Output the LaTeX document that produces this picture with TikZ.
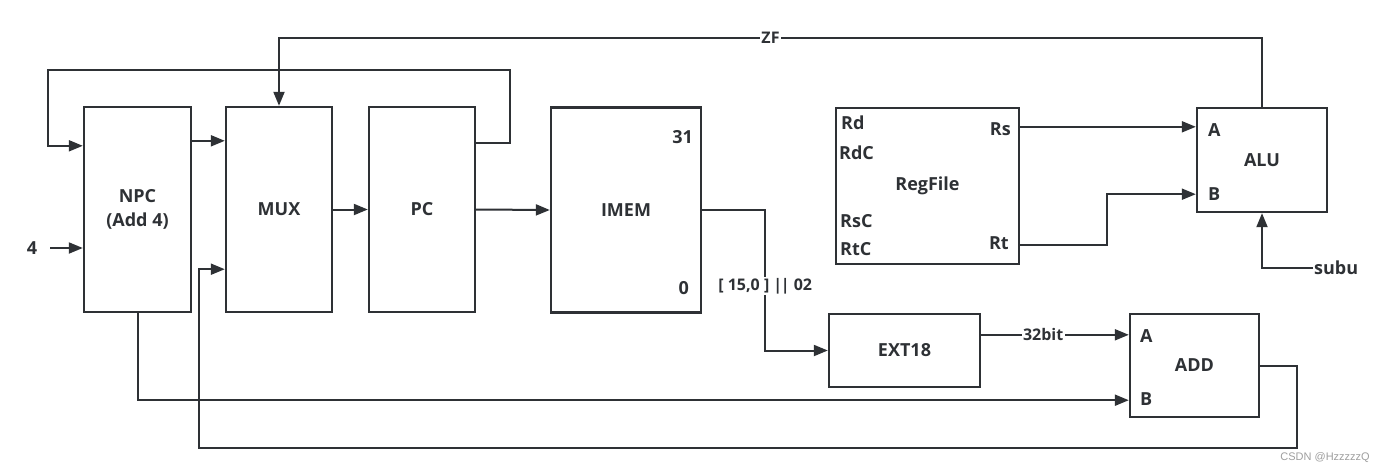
\documentclass[tikz,border=0pt]{standalone}
\usepackage{fontspec}
\setmainfont{Open Sans}
\newfontfamily\wmfont{Liberation Sans}
\usetikzlibrary{arrows.meta,calc}
\definecolor{ink}{RGB}{46,49,53}
\begin{document}
\begin{tikzpicture}[x=1pt,y=-1pt,
  blk/.style={draw=ink, line width=2.4pt, rectangle, minimum height=205pt, inner sep=0pt,
    font=\fontsize{18}{24}\selectfont\bfseries, text=ink, align=center},
  wire/.style={draw=ink, line width=2pt},
  arr/.style={wire, -{Triangle[length=14pt,width=11pt]}},
  lbl/.style={font=\fontsize{18}{20}\selectfont\bfseries, text=ink, inner sep=1pt},
  slbl/.style={font=\fontsize{16}{18}\selectfont\bfseries, text=ink, inner sep=1.5pt, fill=white},
]
\useasboundingbox (0,0) rectangle (1380,474);
\fill[white] (0,0) rectangle (1380,474);

% blocks
\node[blk, minimum width=107pt] (NPC) at (137.5,209.5) {NPC\\(Add 4)};
\node[blk, minimum width=106pt] (MUX) at (279,209.5) {MUX};
\node[blk, minimum width=106pt] (PC) at (422,209.5) {PC};
\node[blk, minimum width=150pt] (IMEM) at (626,210) {IMEM};
\node[blk, minimum width=183pt, minimum height=156pt] (RF) at (927.5,186) {RegFile};
\node[blk, minimum width=130pt, minimum height=104pt] (ALU) at (1262,160) {ALU};
\node[blk, minimum width=151pt, minimum height=73pt] (EXT) at (904.5,350.5) {EXT18};
\node[blk, minimum width=129pt, minimum height=103pt] (ADD) at (1194.5,365.5) {ADD};

% port labels
\node[lbl, anchor=east] (i31) at (694,137) {31};
\node[lbl, anchor=east] (i0) at (690,288) {0};
\node[lbl, anchor=west] (rd) at (840,123) {Rd};
\node[lbl, anchor=west] (rdc) at (838,153) {RdC};
\node[lbl, anchor=west] (rsc) at (839,221) {RsC};
\node[lbl, anchor=west] (rtc) at (839,249) {RtC};
\node[lbl, anchor=east] (rs) at (1012,129) {Rs};
\node[lbl, anchor=east] (rt) at (1010,243) {Rt};
\node[lbl, anchor=west] (aa) at (1207,130) {A};
\node[lbl, anchor=west] (ab) at (1207,194) {B};
\node[lbl, anchor=west] (da) at (1139,336) {A};
\node[lbl, anchor=west] (db) at (1139,399) {B};
\node[lbl] (four) at (32,248) {4};
\node[lbl, anchor=west] (subu) at (1313,268) {subu};
\node[font=\wmfont\fontsize{11}{13}\selectfont, text=gray!75, anchor=east, inner sep=0pt] (wm) at (1370,458) {CSDN @HzzzzzQ};

% helper coordinates
\coordinate (zf) at (1262,38);
\coordinate (fbtop) at (48,70);
\coordinate (low) at (199,448);
\coordinate (npcA) at ([yshift=-40pt]NPC.north west);
\coordinate (muxA) at ([yshift=-35pt]MUX.north west);
\coordinate (muxB) at ([yshift=44pt]MUX.south west);
\coordinate (aluA) at ([yshift=-20pt]ALU.north west);
\coordinate (aluB) at ([yshift=19pt]ALU.south west);
\coordinate (addA) at ([yshift=-22pt]ADD.north west);
\coordinate (addB) at ([yshift=18pt]ADD.south west);

% connectors
\draw[arr] (ALU.north) -- (zf) -| node[pos=0.25, slbl] (zfl) {ZF} (MUX.north);
\draw[arr] ([yshift=-37pt]PC.north east) -- ++(34,0) |- (fbtop) |- (npcA);
\draw[arr] (NPC.east |- muxA) -- (muxA);
\draw[arr] ([xshift=12pt]four.east) -- (four.east -| NPC.west);
\draw[arr] (MUX.east) -- (PC.west);
\draw[arr] (PC.east) -- (IMEM.west);
\draw[arr] (IMEM.east) -- ++(63,0) |- node[pos=0.27, slbl] (imm) {[ 15,0 ] |\kern-1.5pt| 02} (EXT.west);
\draw[arr] (EXT.east |- addA) -- node[pos=0.42, slbl] (b32) {32bit} (addA);
\draw[arr] (NPC.south) |- (addB);
\draw[arr] (ADD.east) -- ++(37,0) |- (low) |- (muxB);
\draw[arr] (RF.east |- aluA) -- (aluA);
\draw[arr] ([yshift=20pt]RF.south east) -- ++(87,0) |- (aluB);
\draw[arr] (subu.west) -| (ALU.south);
\end{tikzpicture}
\end{document}
